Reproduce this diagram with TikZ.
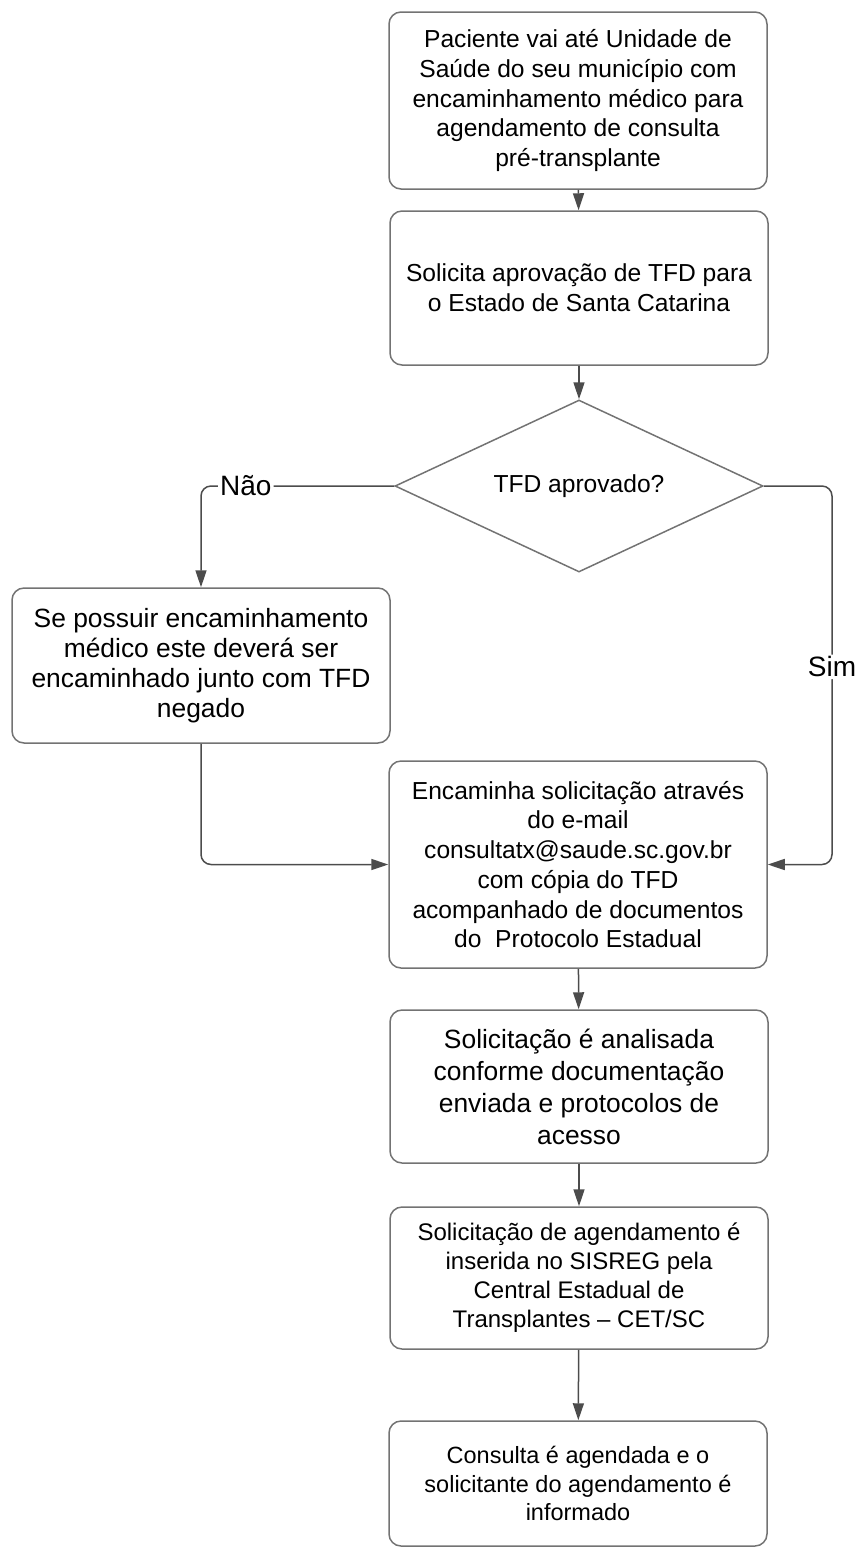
\documentclass[tikz,border=0pt]{standalone}
\usepackage{fontspec}
\setmainfont{Liberation Sans}
\usetikzlibrary{arrows.meta,shapes.geometric}

\tikzset{
    box/.style={draw=black!55, line width=0.75pt, rounded corners=6pt, align=center,
        minimum width=189pt, inner sep=0pt, font=\fontsize{12.3}{14.85}\selectfont},
    bigbox/.style={box, font=\fontsize{13.2}{15}\selectfont},
    decision/.style={diamond, draw=black!55, line width=0.75pt, aspect=2.14, inner sep=0pt,
        minimum width=184pt, minimum height=86pt, font=\fontsize{12.3}{14.85}\selectfont},
    line/.style={draw=black!70, line width=0.75pt, -{Triangle[length=8.5pt,width=5.5pt]}},
    lbl/.style={fill=white, inner sep=1pt, font=\fontsize{14}{16}\selectfont}
}

\begin{document}
\begin{tikzpicture}[x=0.5pt, y=-0.5pt]
            \useasboundingbox (0,0) rectangle (859,1549);

            \node[box, minimum height=88.5pt] (pac) at (578,100.5)
                {Paciente vai até Unidade de\\Saúde do seu município com\\encaminhamento médico para\\agendamento de consulta\\pré-transplante};
            \node[box, minimum height=77pt] (sol) at (579,288)
                {Solicita aprovação de TFD para\\o Estado de Santa Catarina};
            \node[decision] (dec) at (579,486) {TFD aprovado?};
            \node[bigbox, minimum height=77.5pt] (neg) at (201,665.5)
                {Se possuir encaminhamento\\médico este deverá ser\\encaminhado junto com TFD\\negado};
            \node[box, minimum height=103.5pt] (enc) at (578,864.5)
                {Encaminha solicitação através\\do e-mail\\consultatx@saude.sc.gov.br\\com cópia do TFD\\acompanhado de documentos\\do \ Protocolo Estadual};
            \node[bigbox, minimum height=76.5pt, font=\fontsize{13.2}{16}\selectfont] (ana) at (579,1086.5)
                {Solicitação é analisada\\conforme documentação\\enviada e protocolos de\\acesso};
            \node[box, minimum height=71pt, font=\fontsize{12}{14.5}\selectfont] (sis) at (579,1278)
                {Solicitação de agendamento é\\inserida no SISREG pela\\Central Estadual de\\Transplantes – CET/SC};
            \node[box, minimum height=62.5pt, font=\fontsize{11.75}{14.2}\selectfont] (con) at (578,1483.5)
                {Consulta é agendada e o\\solicitante do agendamento é\\informado};

            \coordinate (simc) at (832,486);

            \draw[line] (pac) -- (sol);
            \draw[line] (sol) -- (dec);
            \draw[line, rounded corners=5pt] (dec.west) -| node[lbl, pos=0.384] {Não} (neg.north);
            \draw[line, rounded corners=5pt] (dec.east) -- (simc) |- node[lbl, pos=0.239] {Sim} (enc.east);
            \draw[line, rounded corners=5pt] (neg.south) |- (enc.west);
            \draw[line] (enc) -- (ana);
            \draw[line] (ana) -- (sis);
            \draw[line] (sis) -- (con);

\end{tikzpicture}
\end{document}
